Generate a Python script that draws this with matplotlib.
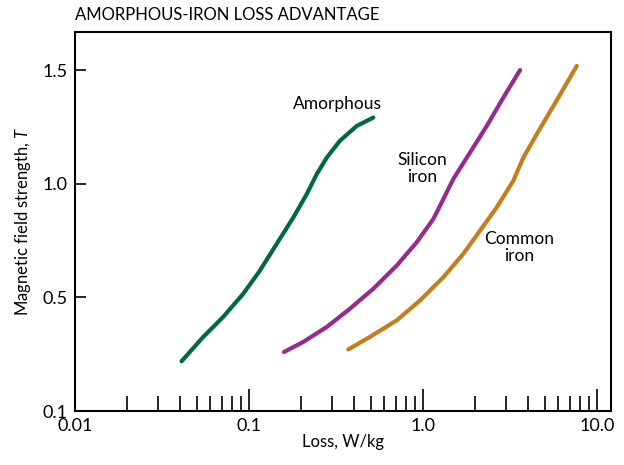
import matplotlib
matplotlib.use("Agg")
import matplotlib.pyplot as plt
from matplotlib.ticker import FixedLocator, NullFormatter

# -----------------------------
# DATA
# -----------------------------
amorphous_loss = [0.0410, 0.0546, 0.0711, 0.0927, 0.1156, 0.1442, 0.180, 0.215,
                  0.245, 0.280, 0.333, 0.416, 0.518]
amorphous_field = [0.219, 0.326, 0.414, 0.516, 0.618, 0.735, 0.852, 0.955,
                   1.042, 1.115, 1.189, 1.254, 1.291]

silicon_loss = [0.159, 0.205, 0.280, 0.380, 0.518, 0.706, 0.921, 1.146, 1.309,
                1.493, 1.862, 2.323, 2.893, 3.61]
silicon_field = [0.260, 0.304, 0.370, 0.450, 0.538, 0.640, 0.743, 0.845, 0.933,
                 1.021, 1.137, 1.254, 1.379, 1.500]

common_loss = [0.372, 0.495, 0.706, 0.962, 1.309, 1.705, 2.128, 2.65, 3.30,
               3.77, 4.50, 5.61, 7.64]
common_field = [0.271, 0.326, 0.399, 0.487, 0.589, 0.692, 0.794, 0.896, 1.013,
                1.115, 1.218, 1.342, 1.518]

x_ticks = [0.01, 0.1, 1.0, 10.0]
x_tick_labels = ["0.01", "0.1", "1.0", "10.0"]
y_ticks = [0.0, 0.5, 1.0, 1.5]
y_tick_labels = ["0.1", "0.5", "1.0", "1.5"]

plt.rcParams["font.family"] = ["Lato", "DejaVu Sans"]
plt.rcParams["mathtext.fontset"] = "custom"
plt.rcParams["mathtext.it"] = "Lato:italic"

fig = plt.figure(figsize=(6.24, 4.65), dpi=100)
ax = fig.add_axes([0.120, 0.116, 0.859, 0.815])

lw = 3.0
style = dict(linewidth=lw, solid_capstyle="round", solid_joinstyle="round")
ax.plot(amorphous_loss, amorphous_field, color="#006a3a", **style)
ax.plot(silicon_loss, silicon_field, color="#962a90", **style)
ax.plot(common_loss, common_field, color="#c47f1c", **style)

ax.text(0.321, 1.351, "Amorphous", ha="center", va="center", fontsize=12.5)
ax.text(0.986, 1.066, "Silicon\niron", ha="center", va="center", fontsize=12.5, linespacing=1.05)
ax.text(3.56, 0.719, "Common\niron", ha="center", va="center", fontsize=12.5, linespacing=1.05)

ax.set_xscale("log")
ax.set_xlim(0.01, 12)
ax.set_ylim(0.0, 1.667)

ax.xaxis.set_major_locator(FixedLocator(x_ticks))
ax.set_xticklabels(x_tick_labels)
minor = [m * d for d in [0.01, 0.1, 1.0] for m in range(2, 10)]
ax.xaxis.set_minor_locator(FixedLocator(minor))
ax.xaxis.set_minor_formatter(NullFormatter())
ax.set_yticks(y_ticks)
ax.set_yticklabels(y_tick_labels)

ax.tick_params(axis="x", which="major", direction="in", length=16, width=1.2,
               labelsize=13, pad=5, top=False)
ax.tick_params(axis="x", which="minor", direction="in", length=11, width=1.2, top=False)
ax.tick_params(axis="y", direction="in", length=8, width=1.2, labelsize=13, pad=5, right=False)

for s in ax.spines.values():
    s.set_linewidth(1.5)

ax.set_xlabel("Loss, W/kg", fontsize=12, labelpad=0)
ax.set_ylabel("Magnetic field strength, $T$", fontsize=12, labelpad=7)

fig.text(0.120, 0.968, "AMORPHOUS-IRON LOSS ADVANTAGE", ha="left", va="center", fontsize=12)

fig.savefig("out.png", dpi=100)
